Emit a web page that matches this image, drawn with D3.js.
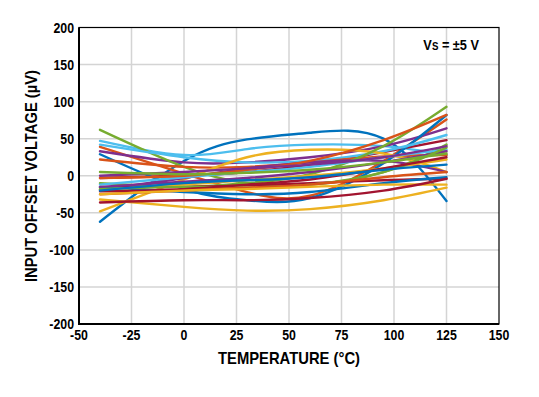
<!DOCTYPE html>
<html>
<head>
<meta charset="utf-8">
<script src="https://cdn.jsdelivr.net/npm/d3@7"></script>
<style>
  body { margin: 0; background: #fff; }
  svg text { font-family: "Liberation Sans Narrow", "Arial Narrow", "Liberation Sans", sans-serif; font-weight: bold; fill: #000; }
</style>
</head>
<body>
<script>
var temps = [-40, 0, 30, 60, 95, 125]

// one row per unit, offset in uV
var blueUnits = [[-62, 20, 49, 58, 50, -34], [29, -18, -33, -30, 17, 82], [-15, -22, -25, -22, -10, -2], [-20, -10, -6, -2, 8, 15]]
var lightBlueUnits = [[47, 28, 36, 42, 40, 28], [42, 25, 18, 20, 33, 55], [-12, -2, 5, 12, 25, 35]]
var orangeUnits = [[39, 3, -22, -27, 20, 76], [22, 12, 12, 18, 26, 28], [-3, 0, 8, 20, 48, 82], [-25, -20, -16, -12, -2, 5]]
var yellowUnits = [[-32, -42, -47, -45, -33, -16], [-48, -5, 25, 35, 30, 5], [-19, -12, -6, 0, 10, 22], [-25, -20, -18, -15, -12, -12]]
var purpleUnits = [[33, 18, 18, 25, 40, 64], [-19, -3, 10, 18, 20, 5], [-15, -8, -3, 5, 18, 33], [0, 5, 10, 15, 25, 40]]
var greenUnits = [[62, 12, -10, -12, 5, 42], [-10, -15, -10, 2, 40, 93], [-18, -15, -16, -12, 5, 38], [5, 2, 4, 8, 18, 30]]
var darkRedUnits = [[-3, 0, 5, 15, 32, 48], [-16, -15, -13, -10, -6, -4], [-21, -18, -12, -5, 10, 25], [-36, -33, -33, -30, -20, -4]]

var xTicks = [-50, -25, 0, 25, 50, 75, 100, 125, 150]
var yTicks = [-200, -150, -100, -50, 0, 50, 100, 150, 200]

var groups = [
  {color: "#0072BD", units: blueUnits},
  {color: "#4DBEEE", units: lightBlueUnits},
  {color: "#D95319", units: orangeUnits},
  {color: "#EDB120", units: yellowUnits},
  {color: "#7E2F8E", units: purpleUnits},
  {color: "#77AC30", units: greenUnits},
  {color: "#A2142F", units: darkRedUnits}
]

var W = 539, H = 397
var mLeft = 79, mRight = 499, mTop = 27.5, mBottom = 324

var x = d3.scaleLinear().domain([-50, 150]).range([mLeft, mRight])
var y = d3.scaleLinear().domain([-200, 200]).range([mBottom, mTop])

var svg = d3.select("body").append("svg")
    .attr("width", W)
    .attr("height", H)

// grid
svg.append("g")
    .attr("stroke", "#d4d4d4")
    .attr("stroke-width", 1.5)
  .selectAll("line")
  .data(xTicks.slice(1, -1))
  .join("line")
    .attr("x1", d => x(d)).attr("x2", d => x(d))
    .attr("y1", mTop).attr("y2", mBottom)

svg.append("g")
    .attr("stroke", "#d4d4d4")
    .attr("stroke-width", 1.5)
  .selectAll("line")
  .data(yTicks.slice(1, -1))
  .join("line")
    .attr("x1", mLeft).attr("x2", mRight)
    .attr("y1", d => y(d)).attr("y2", d => y(d))

// curves, interleave colours so no colour sits all on top
var line = d3.line()
    .x((d, i) => x(temps[i]))
    .y(d => y(d))
    .curve(d3.curveNatural)

var rows = []
for (var k = 0; k < 4; k++) {
  groups.forEach(g => { if (g.units[k]) rows.push({color: g.color, v: g.units[k]}) })
}

svg.append("g")
    .attr("fill", "none")
    .attr("stroke-width", 2.4)
    .attr("stroke-linecap", "round")
  .selectAll("path")
  .data(rows)
  .join("path")
    .attr("stroke", d => d.color)
    .attr("d", d => line(d.v))

// frame
svg.append("rect")
    .attr("x", mLeft).attr("y", mTop)
    .attr("width", mRight - mLeft).attr("height", mBottom - mTop)
    .attr("fill", "none")
    .attr("stroke", "#000")
    .attr("stroke-width", 1.2)

svg.append("path")
    .attr("d", `M${mLeft},${mTop}V${mBottom}H${mRight}`)
    .attr("fill", "none")
    .attr("stroke", "#000")
    .attr("stroke-width", 2)

// tick labels (squeezed to look like a condensed face)
svg.append("g")
  .selectAll("text")
  .data(xTicks)
  .join("text")
    .attr("transform", d => `translate(${x(d)},340) scale(0.85,1)`)
    .attr("text-anchor", "middle")
    .style("font-size", "14.5px")
    .text(d => d)

svg.append("g")
  .selectAll("text")
  .data(yTicks)
  .join("text")
    .attr("transform", d => `translate(74,${y(d) + 5}) scale(0.85,1)`)
    .attr("text-anchor", "end")
    .style("font-size", "14.5px")
    .text(d => d)

// titles
svg.append("text")
    .attr("x", 289)
    .attr("y", 364)
    .attr("text-anchor", "middle")
    .attr("textLength", 142)
    .attr("lengthAdjust", "spacingAndGlyphs")
    .style("font-size", "17px")
    .text("TEMPERATURE (°C)")

svg.append("text")
    .attr("transform", "translate(37,176) rotate(-90)")
    .attr("text-anchor", "middle")
    .attr("textLength", 212)
    .attr("lengthAdjust", "spacingAndGlyphs")
    .style("font-size", "17px")
    .text("INPUT OFFSET VOLTAGE (µV)")

var note = svg.append("text")
    .attr("transform", "translate(479,50) scale(0.88,1)")
    .attr("text-anchor", "end")
    .style("font-size", "14.5px")
note.append("tspan").text("V")
note.append("tspan").style("font-size", "11px").text("S")
note.append("tspan").text(" = ±5 V")
</script>
</body>
</html>
